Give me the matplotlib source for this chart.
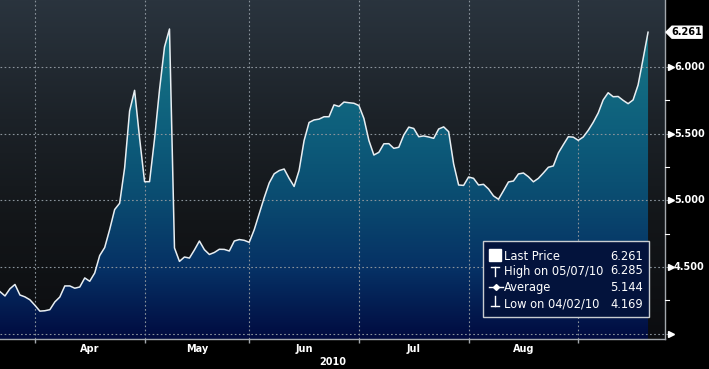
import numpy as np
import pandas as pd
import matplotlib
matplotlib.use('Agg')
import matplotlib.pyplot as plt
from matplotlib.colors import LinearSegmentedColormap
from matplotlib.patches import Polygon, Rectangle
import matplotlib.transforms as mtransforms

# ---------------- data ----------------
dates = pd.bdate_range('2010-03-23', periods=131)
prices = [
    4.315, 4.283, 4.337, 4.369, 4.290, 4.276, 4.254, 4.213, 4.169, 4.172,
    4.180, 4.238, 4.275, 4.358, 4.358, 4.341, 4.350, 4.418, 4.393, 4.455,
    4.586, 4.646, 4.781, 4.931, 4.978, 5.243, 5.670, 5.825, 5.467, 5.140,
    5.140, 5.460, 5.830, 6.150, 6.285, 4.643, 4.542, 4.575, 4.567, 4.628,
    4.695, 4.630, 4.594, 4.609, 4.633, 4.632, 4.620, 4.695, 4.706, 4.700,
    4.685, 4.780, 4.900, 5.020, 5.130, 5.199, 5.223, 5.235, 5.165, 5.104,
    5.225, 5.448, 5.584, 5.603, 5.609, 5.627, 5.627, 5.716, 5.704, 5.737,
    5.732, 5.728, 5.711, 5.614, 5.449, 5.340, 5.360, 5.424, 5.425, 5.390,
    5.398, 5.490, 5.549, 5.539, 5.477, 5.483, 5.475, 5.465, 5.535, 5.551,
    5.515, 5.273, 5.115, 5.112, 5.175, 5.165, 5.115, 5.120, 5.085, 5.033,
    5.008, 5.072, 5.138, 5.145, 5.198, 5.205, 5.177, 5.139, 5.165, 5.205,
    5.248, 5.258, 5.355, 5.417, 5.477, 5.474, 5.450, 5.475, 5.525, 5.585,
    5.655, 5.753, 5.807, 5.777, 5.779, 5.750, 5.725, 5.753, 5.865, 6.060,
    6.261,
]
y_ticks = [4.0, 4.5, 5.0, 5.5, 6.0]
y_tick_labels = ['', '4.500', '5.000', '5.500', '6.000']
y_minor = [4.25, 4.75, 5.25, 5.75]
month_labels = ['Apr', 'May', 'Jun', 'Jul', 'Aug']
year_label = '2010'
legend_labels = ['Last Price', 'High on 05/07/10', 'Average', 'Low on 04/02/10']
legend_values = ['6.261', '6.285', '5.144', '4.169']
last_label = '6.261'

# ---------------- figure ----------------
W, H = 709, 369
fig = plt.figure(figsize=(W / 100, H / 100), dpi=100, facecolor='black')
ax = fig.add_axes([0, 30 / H, 665 / W, 339 / H])
XMAX = 133.4
YMIN, YMAX = 3.96, 6.5025
x = np.arange(len(prices))
ax.set_facecolor('black')

grad = np.linspace(0, 1, 512).reshape(-1, 1)
bg = LinearSegmentedColormap.from_list(
    'bg', [(0, '#0c0d10'), (0.35, '#131619'), (0.65, '#1c2228'), (1, '#2a343e')])
ax.imshow(grad, cmap=bg, aspect='auto', extent=[0, XMAX, YMIN, YMAX],
          origin='lower', zorder=0, interpolation='bilinear')

poly = ax.fill_between(x, prices, YMIN, color='none', lw=0)
fillmap = LinearSegmentedColormap.from_list(
    'fill', [(0, '#010b40'), (0.2, '#063064'), (0.41, '#0a4b70'),
             (0.62, '#0e5f7c'), (0.91, '#177686'), (1, '#1b808f')])
im = ax.imshow(grad, cmap=fillmap, aspect='auto', extent=[0, XMAX, YMIN, YMAX],
               origin='lower', zorder=1, interpolation='bilinear')
im.set_clip_path(poly.get_paths()[0], transform=ax.transData)

ax.set_xlim(0, XMAX)
ax.set_ylim(YMIN, YMAX)

# month ticks at first business day of each month
months = pd.Series(dates.to_period('M'))
month_ticks = [int(i) for i in np.where(months.ne(months.shift()).values)[0][1:]]

grid_c = '#8a939b'
blend_y = mtransforms.blended_transform_factory(ax.transAxes, ax.transData)
blend_x = mtransforms.blended_transform_factory(ax.transData, ax.transAxes)
for v in y_ticks:
    ax.plot([0, 668 / 665], [v, v], transform=blend_y, color=grid_c, lw=0.8,
            ls=(0, (1.5, 2.2)), clip_on=False, zorder=2)
for t in month_ticks:
    ax.axvline(t, color=grid_c, lw=0.8, ls=(0, (1.5, 2.2)), zorder=2)

ax.plot(x, prices, color='#e8eef2', lw=1.1, zorder=3, solid_joinstyle='round')

for s in ['top', 'left']:
    ax.spines[s].set_visible(False)
for s in ['right', 'bottom']:
    ax.spines[s].set_color('#a3a8ad')
    ax.spines[s].set_linewidth(1.0)
    ax.spines[s].set_zorder(4)

ax.set_xticks(month_ticks)
ax.set_xticklabels([])
ax.tick_params(axis='x', direction='out', length=3, color='#a3a8ad', width=1)
ax.set_yticks([])

lab_font = dict(family='DejaVu Sans', weight='bold', size=7, color='white')
for i, m in enumerate(month_labels):
    mid = (month_ticks[i] + month_ticks[i + 1]) / 2
    ax.text(mid, -10 / 339, m, transform=blend_x, ha='center', va='center', **lab_font)
ax.text(0.5, -23 / 339, year_label, transform=ax.transAxes, ha='center', va='center', **lab_font)

for v, lab in zip(y_ticks, y_tick_labels):
    ax.plot([670.5 / 665], [v], transform=blend_y, marker='>', ms=4.2, color='white',
            mec='white', clip_on=False, zorder=5)
    if lab:
        ax.text(674 / 665, v, lab, transform=blend_y, ha='left', va='center', **lab_font)
for v in y_minor:
    ax.plot([1.0, 668.5 / 665], [v, v], transform=blend_y, color='white', lw=0.8,
            clip_on=False, zorder=5)

# ---------------- overlay (tag + legend) ----------------
ov = fig.add_axes([0, 0, 1, 1], facecolor='none')
ov.set_xlim(0, W)
ov.set_ylim(0, H)
ov.axis('off')

fig.canvas.draw()
px, py = ax.transData.transform((x[-1], prices[-1]))
tag = Polygon([(666, py), (672, py + 6), (702, py + 6), (702, py - 6), (672, py - 6)],
              closed=True, facecolor='white', edgecolor='white', zorder=6)
ov.add_patch(tag)
ov.text(687, py, last_label, ha='center', va='center', family='DejaVu Sans',
        weight='bold', size=7, color='black', zorder=7)

ov.add_patch(Rectangle((482.5, H - 316.5), 166.5, 76, facecolor='#03133c',
                       edgecolor='#c9cdd1', lw=1.0, zorder=6))
rows = [256, 271, 287.5, 304]
leg_font = dict(family='DejaVu Sans', size=8.3, color='white')
for r, lab, val in zip(rows, legend_labels, legend_values):
    ov.text(504, H - r, lab, ha='left', va='center', zorder=7, **leg_font)
    ov.text(643, H - r, val, ha='right', va='center', zorder=7, **leg_font)
# icons
ov.add_patch(Rectangle((489, H - 261), 12, 12, facecolor='white', edgecolor='white', zorder=7))
ov.plot([495, 495], [H - 267, H - 276], color='white', lw=1, zorder=7)
ov.plot([491, 499], [H - 267, H - 267], color='white', lw=1, zorder=7)
ov.plot([489, 503], [H - 287, H - 287], color='white', lw=1, zorder=7)
ov.plot([496], [H - 287], marker='D', ms=3, color='white', zorder=7)
ov.plot([495, 495], [H - 296, H - 306], color='white', lw=1, zorder=7)
ov.plot([491, 499], [H - 306, H - 306], color='white', lw=1, zorder=7)

fig.savefig('out.png', dpi=100, facecolor='black')
